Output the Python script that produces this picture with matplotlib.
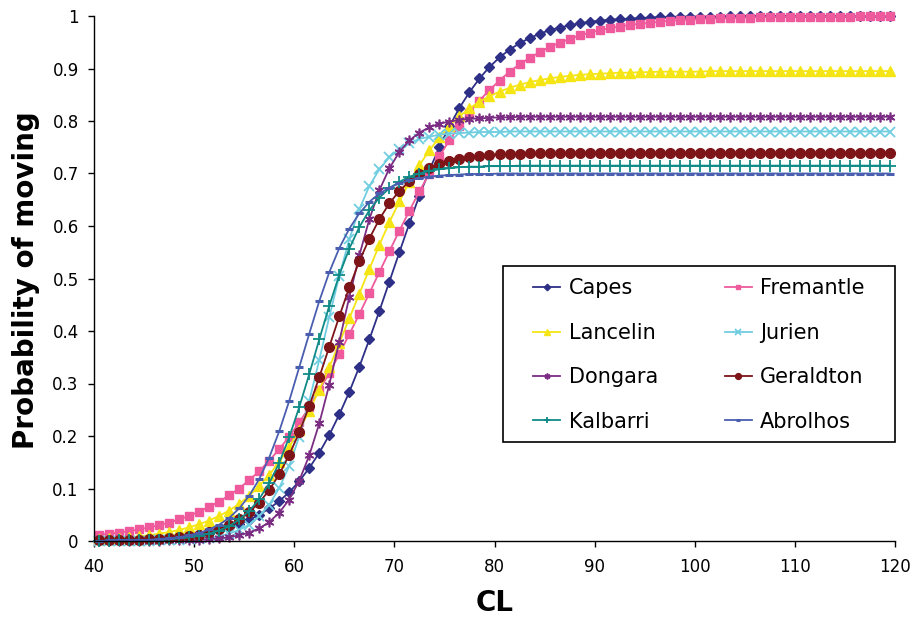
import numpy as np
import matplotlib
matplotlib.use("Agg")
import matplotlib.pyplot as plt
from matplotlib.patches import Rectangle

# carapace length classes (bin centres)
cl = np.arange(40.5, 120, 1.0)

capes = [0.001, 0.002, 0.002, 0.003, 0.004, 0.004, 0.006, 0.007, 0.009, 0.011,
         0.013, 0.017, 0.021, 0.026, 0.032, 0.040, 0.050, 0.062, 0.076, 0.093,
         0.114, 0.139, 0.168, 0.202, 0.241, 0.284, 0.332, 0.384, 0.438, 0.494,
         0.550, 0.605, 0.658, 0.706, 0.751, 0.790, 0.825, 0.855, 0.881, 0.903,
         0.921, 0.936, 0.948, 0.958, 0.966, 0.973, 0.978, 0.982, 0.986, 0.989,
         0.991, 0.993, 0.994, 0.995, 0.996, 0.997, 0.998, 0.998, 0.999, 0.999,
         0.999, 0.999, 0.999, 1.000, 1.000, 1.000, 1.000, 1.000, 1.000, 1.000,
         1.000, 1.000, 1.000, 1.000, 1.000, 1.000, 1.000, 1.000, 1.000, 1.000]

fremantle = [0.012, 0.014, 0.016, 0.019, 0.022, 0.026, 0.030, 0.035, 0.041, 0.048,
             0.056, 0.065, 0.075, 0.087, 0.100, 0.116, 0.133, 0.153, 0.175, 0.199,
             0.226, 0.255, 0.287, 0.320, 0.356, 0.394, 0.432, 0.472, 0.512, 0.552,
             0.591, 0.629, 0.666, 0.700, 0.733, 0.763, 0.791, 0.816, 0.839, 0.859,
             0.877, 0.894, 0.908, 0.920, 0.931, 0.941, 0.949, 0.956, 0.963, 0.968,
             0.973, 0.977, 0.980, 0.983, 0.985, 0.987, 0.989, 0.991, 0.992, 0.993,
             0.994, 0.995, 0.996, 0.996, 0.997, 0.997, 0.998, 0.998, 0.998, 0.999,
             0.999, 0.999, 0.999, 0.999, 0.999, 0.999, 1.000, 1.000, 1.000, 1.000]

lancelin = [0.004, 0.005, 0.006, 0.007, 0.009, 0.011, 0.014, 0.017, 0.021, 0.026,
            0.032, 0.039, 0.048, 0.058, 0.071, 0.086, 0.105, 0.126, 0.151, 0.179,
            0.212, 0.248, 0.288, 0.331, 0.377, 0.424, 0.471, 0.518, 0.564, 0.607,
            0.647, 0.683, 0.716, 0.744, 0.769, 0.791, 0.809, 0.824, 0.837, 0.847,
            0.856, 0.863, 0.869, 0.874, 0.878, 0.881, 0.884, 0.886, 0.888, 0.889,
            0.890, 0.891, 0.892, 0.892, 0.893, 0.893, 0.894, 0.894, 0.894, 0.894,
            0.894, 0.895, 0.895, 0.895, 0.895, 0.895, 0.895, 0.895, 0.895, 0.895,
            0.895, 0.895, 0.895, 0.895, 0.895, 0.895, 0.895, 0.895, 0.895, 0.895]

jurien = [0.000, 0.000, 0.000, 0.000, 0.000, 0.000, 0.001, 0.001, 0.002, 0.003,
          0.004, 0.006, 0.009, 0.014, 0.021, 0.031, 0.047, 0.069, 0.101, 0.143,
          0.199, 0.267, 0.345, 0.427, 0.505, 0.575, 0.632, 0.676, 0.708, 0.731,
          0.747, 0.758, 0.766, 0.770, 0.774, 0.776, 0.777, 0.778, 0.779, 0.779,
          0.779, 0.780, 0.780, 0.780, 0.780, 0.780, 0.780, 0.780, 0.780, 0.780,
          0.780, 0.780, 0.780, 0.780, 0.780, 0.780, 0.780, 0.780, 0.780, 0.780,
          0.780, 0.780, 0.780, 0.780, 0.780, 0.780, 0.780, 0.780, 0.780, 0.780,
          0.780, 0.780, 0.780, 0.780, 0.780, 0.780, 0.780, 0.780, 0.780, 0.780]

dongara = [0.000, 0.000, 0.000, 0.000, 0.000, 0.000, 0.000, 0.001, 0.001, 0.001,
           0.002, 0.003, 0.005, 0.007, 0.011, 0.016, 0.024, 0.036, 0.054, 0.079,
           0.115, 0.163, 0.224, 0.298, 0.380, 0.465, 0.544, 0.613, 0.668, 0.710,
           0.741, 0.763, 0.778, 0.788, 0.795, 0.799, 0.802, 0.804, 0.805, 0.806,
           0.807, 0.807, 0.808, 0.808, 0.808, 0.808, 0.808, 0.808, 0.808, 0.808,
           0.808, 0.808, 0.808, 0.808, 0.808, 0.808, 0.808, 0.808, 0.808, 0.808,
           0.808, 0.808, 0.808, 0.808, 0.808, 0.808, 0.808, 0.808, 0.808, 0.808,
           0.808, 0.808, 0.808, 0.808, 0.808, 0.808, 0.808, 0.808, 0.808, 0.808]

geraldton = [0.001, 0.001, 0.001, 0.001, 0.002, 0.003, 0.003, 0.005, 0.007, 0.009,
             0.012, 0.017, 0.022, 0.030, 0.041, 0.055, 0.073, 0.097, 0.127, 0.164,
             0.207, 0.257, 0.312, 0.370, 0.428, 0.483, 0.533, 0.576, 0.613, 0.643,
             0.667, 0.685, 0.699, 0.710, 0.718, 0.723, 0.728, 0.731, 0.733, 0.735,
             0.737, 0.737, 0.738, 0.739, 0.739, 0.739, 0.739, 0.740, 0.740, 0.740,
             0.740, 0.740, 0.740, 0.740, 0.740, 0.740, 0.740, 0.740, 0.740, 0.740,
             0.740, 0.740, 0.740, 0.740, 0.740, 0.740, 0.740, 0.740, 0.740, 0.740,
             0.740, 0.740, 0.740, 0.740, 0.740, 0.740, 0.740, 0.740, 0.740, 0.740]

kalbarri = [0.000, 0.000, 0.001, 0.001, 0.001, 0.002, 0.002, 0.003, 0.005, 0.007,
            0.010, 0.014, 0.020, 0.028, 0.041, 0.057, 0.080, 0.110, 0.149, 0.198,
            0.255, 0.318, 0.384, 0.448, 0.507, 0.557, 0.598, 0.630, 0.654, 0.672,
            0.684, 0.694, 0.700, 0.705, 0.708, 0.710, 0.712, 0.713, 0.713, 0.714,
            0.714, 0.714, 0.715, 0.715, 0.715, 0.715, 0.715, 0.715, 0.715, 0.715,
            0.715, 0.715, 0.715, 0.715, 0.715, 0.715, 0.715, 0.715, 0.715, 0.715,
            0.715, 0.715, 0.715, 0.715, 0.715, 0.715, 0.715, 0.715, 0.715, 0.715,
            0.715, 0.715, 0.715, 0.715, 0.715, 0.715, 0.715, 0.715, 0.715, 0.715]

abrolhos = [0.000, 0.001, 0.001, 0.001, 0.002, 0.002, 0.004, 0.005, 0.007, 0.011,
            0.015, 0.022, 0.031, 0.044, 0.062, 0.086, 0.118, 0.159, 0.209, 0.267,
            0.331, 0.395, 0.457, 0.512, 0.558, 0.595, 0.624, 0.646, 0.662, 0.673,
            0.681, 0.687, 0.691, 0.694, 0.696, 0.697, 0.698, 0.699, 0.699, 0.699,
            0.700, 0.700, 0.700, 0.700, 0.700, 0.700, 0.700, 0.700, 0.700, 0.700,
            0.700, 0.700, 0.700, 0.700, 0.700, 0.700, 0.700, 0.700, 0.700, 0.700,
            0.700, 0.700, 0.700, 0.700, 0.700, 0.700, 0.700, 0.700, 0.700, 0.700,
            0.700, 0.700, 0.700, 0.700, 0.700, 0.700, 0.700, 0.700, 0.700, 0.700]

names = ["Capes", "Fremantle", "Lancelin", "Jurien",
         "Dongara", "Geraldton", "Kalbarri", "Abrolhos"]
series = [capes, fremantle, lancelin, jurien, dongara, geraldton, kalbarri, abrolhos]
colors = ["#2E3087", "#EE5A9C", "#F5E514", "#6FCDE0",
          "#7B2C83", "#7D1418", "#108A86", "#4A5EB0"]
markers = ["D", "s", "^", "x", (6, 2, 0), "o", "+", "_"]
msizes = [5.5, 6, 7, 7, 7, 7, 8, 6]
mews = [1, 1, 1, 1.3, 1.2, 1, 1.3, 2.2]

fig = plt.figure(figsize=(9.13, 6.21), dpi=100)
ax = fig.add_axes([94/913, 1-541/621, 801/913, 525/621])

lines = []
for name, y, c, m, ms, mw in zip(names, series, colors, markers, msizes, mews):
    ln, = ax.plot(cl, y, color=c, marker=m, markersize=ms, markeredgewidth=mw,
                  markeredgecolor=c, markerfacecolor=c, linewidth=1.3,
                  label=name, clip_on=False)
    lines.append(ln)

ax.set_xlim(40, 120)
ax.set_ylim(0, 1)
ax.set_xticks(np.arange(40, 121, 10))
ax.set_yticks(np.arange(0, 1.01, 0.1))
ax.set_yticklabels(["0", "0.1", "0.2", "0.3", "0.4", "0.5", "0.6", "0.7", "0.8", "0.9", "1"])
ax.spines["top"].set_visible(False)
ax.spines["right"].set_visible(False)
for s in ["left", "bottom"]:
    ax.spines[s].set_linewidth(1.0)
ax.tick_params(axis="y", direction="out", length=4, width=1, labelsize=12, pad=7)
ax.tick_params(axis="x", direction="out", length=4, width=1, labelsize=12, pad=8)

fig.text(26/913, 1-280/621, "Probability of moving", rotation=90,
         ha="center", va="center", fontsize=20, fontweight="bold")
fig.text(495/913, 1-603/621, "CL", ha="center", va="center",
         fontsize=20, fontweight="bold")

# legend box
fig.patches.append(Rectangle((503/913, 1-442/621), 392/913, 176/621,
                             transform=fig.transFigure, fill=True,
                             facecolor="white", edgecolor="black", linewidth=1.2,
                             zorder=5))
order = [0, 2, 4, 6, 1, 3, 5, 7]
leg = fig.legend([lines[i] for i in order], [names[i] for i in order],
                 loc="center", bbox_to_anchor=(699/913, 1-355/621), ncol=2,
                 frameon=False, fontsize=15, handlelength=1.3, handletextpad=0.4,
                 columnspacing=3.2, labelspacing=1.17, markerscale=0.6, borderpad=0)
leg.set_zorder(6)

fig.savefig("out.png", dpi=100)
